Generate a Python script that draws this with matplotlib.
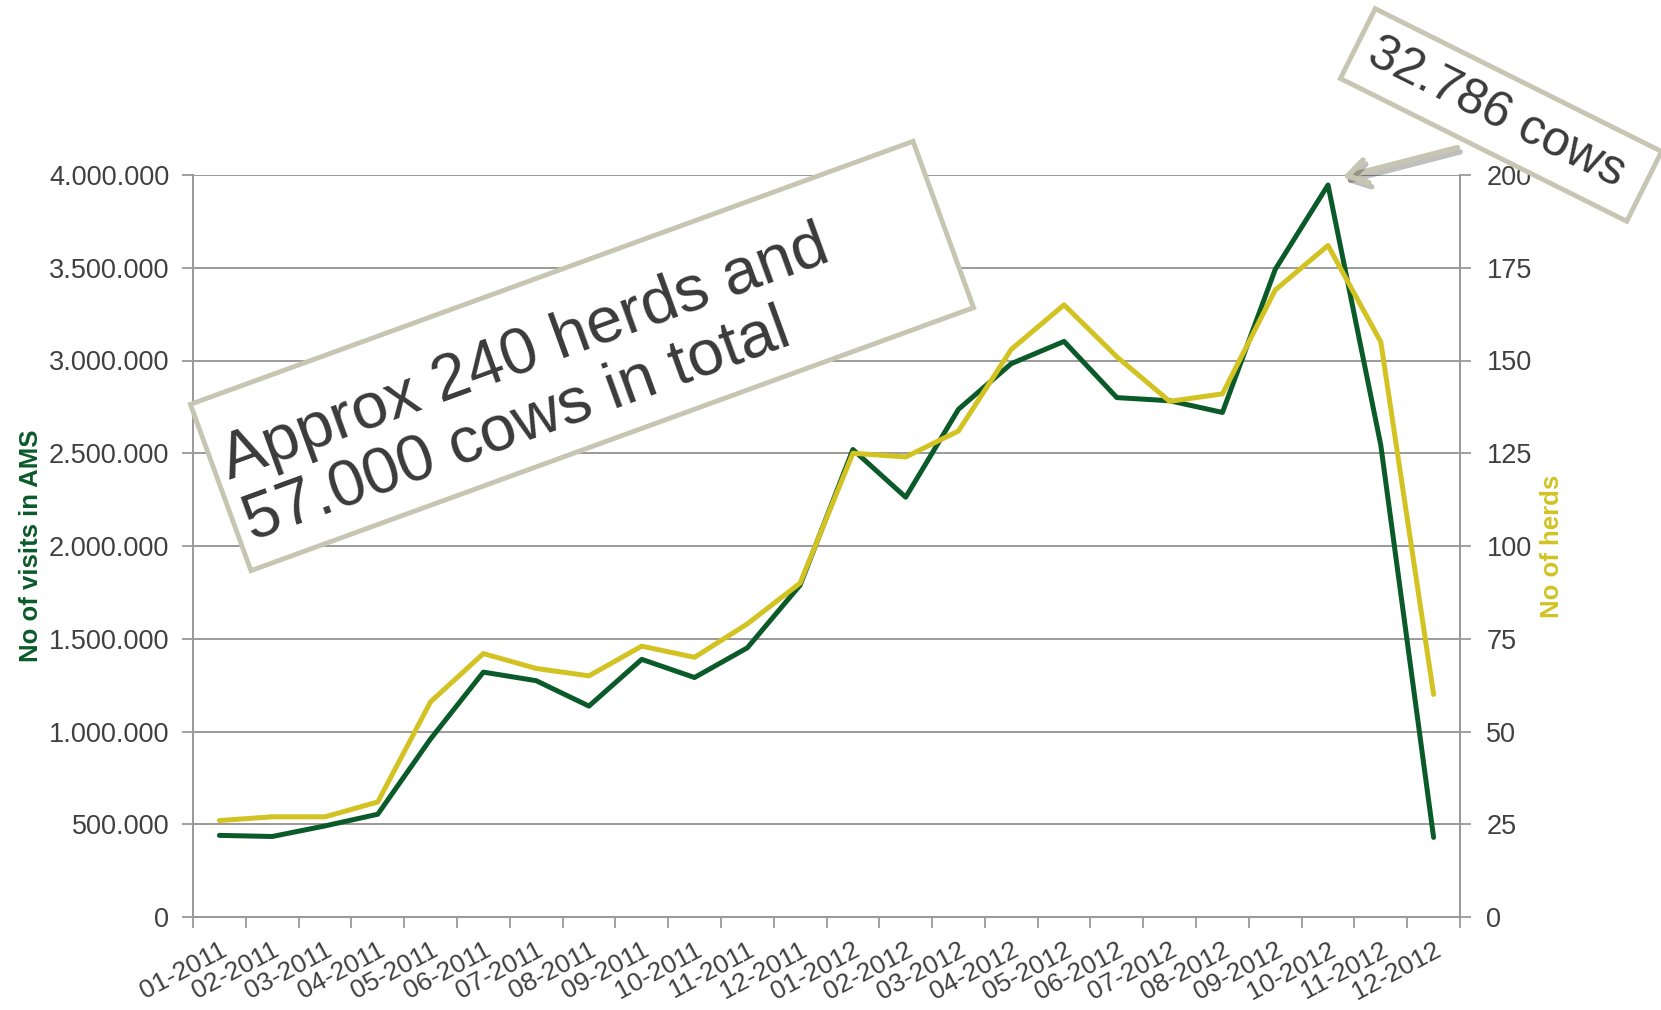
import matplotlib.pyplot as plt
import matplotlib.patheffects as pe
from matplotlib.patches import Rectangle
from matplotlib.transforms import Affine2D
from matplotlib.ticker import FixedLocator, FuncFormatter

plt.rcParams['font.family'] = ['Liberation Sans', 'DejaVu Sans']

MONTHS = ['01-2011', '02-2011', '03-2011', '04-2011', '05-2011', '06-2011',
          '07-2011', '08-2011', '09-2011', '10-2011', '11-2011', '12-2011',
          '01-2012', '02-2012', '03-2012', '04-2012', '05-2012', '06-2012',
          '07-2012', '08-2012', '09-2012', '10-2012', '11-2012', '12-2012']

# no of visits in AMS (left axis)
VISITS = [440000, 434000, 491000, 554000, 960000, 1320000,
          1274000, 1137000, 1389000, 1291000, 1451000, 1789000,
          2520000, 2263000, 2737000, 2983000, 3103000, 2800000,
          2783000, 2720000, 3491000, 3946000, 2543000, 429000]

# no of herds (right axis)
HERDS = [26, 27, 27, 31, 58, 71, 67, 65, 73, 70, 79, 90,
         125, 124, 131, 153, 165, 151, 139, 141, 169, 181, 155, 60]

LEFT_TICKS = [0, 500000, 1000000, 1500000, 2000000, 2500000, 3000000, 3500000, 4000000]
RIGHT_TICKS = [0, 25, 50, 75, 100, 125, 150, 175, 200]

GREEN = '#0b5a2a'
YELLOW = '#d2c323'
BOXC = '#c6c6b2'
GRID = '#9a9a9a'
TXT = '#404040'

W, H, DPI = 1661, 1010, 100

fig = plt.figure(figsize=(W / DPI, H / DPI), dpi=DPI)
ax = fig.add_axes([193 / W, 1 - 917 / H, (1460 - 193) / W, (917 - 175) / H])
ax2 = ax.twinx()

x = list(range(len(MONTHS)))
ax.plot(x, VISITS, color=GREEN, lw=3.6, solid_capstyle='round', zorder=3)
ax2.plot(x, HERDS, color=YELLOW, lw=3.6, solid_capstyle='round', zorder=3)

ax.set_xlim(-0.5, len(MONTHS) - 0.5)
ax.set_ylim(0, 4000000)
ax2.set_ylim(0, 200)

ax.set_yticks(LEFT_TICKS)
ax.yaxis.set_major_formatter(FuncFormatter(lambda v, p: f"{int(v):,}".replace(',', '.')))
ax2.set_yticks(RIGHT_TICKS)

ax.set_xticks(x)
ax.set_xticklabels(MONTHS, rotation=28, ha='right', va='top', rotation_mode='anchor')
ax.xaxis.set_minor_locator(FixedLocator([i - 0.5 for i in range(len(MONTHS) + 1)]))
ax.tick_params(axis='x', which='major', length=0, pad=15, labelsize=19, labelcolor=TXT)
ax.tick_params(axis='x', which='minor', length=8, width=1.3, color=GRID)
ax.tick_params(axis='y', length=8, width=1.3, color=GRID, pad=9, labelsize=19.5, labelcolor=TXT)
ax2.tick_params(axis='y', length=8, width=1.3, color=GRID, pad=11, labelsize=19.5, labelcolor=TXT)

ax.grid(axis='y', color=GRID, lw=1.4)
ax.set_axisbelow(True)
for a in (ax, ax2):
    a.spines['top'].set_visible(False)
    for s in ('left', 'right', 'bottom'):
        a.spines[s].set_color(GRID)
        a.spines[s].set_linewidth(1.4)

ax.set_ylabel('No of visits in AMS', color=GREEN, fontsize=18.5, fontweight='bold')
ax.yaxis.set_label_coords(-0.118, 0.5)
ax2.set_ylabel('No of herds', color=YELLOW, fontsize=18.5, fontweight='bold')
ax2.yaxis.set_label_coords(1.063, 0.5)


def rotated_box(cx, cy, w, h, angle):
    # cx, cy in pixels from top-left of the image
    tr = Affine2D().rotate_deg(angle).translate(cx, H - cy).scale(1 / DPI) + fig.dpi_scale_trans
    rect = Rectangle((-w / 2, -h / 2), w, h, transform=tr, facecolor='white',
                     edgecolor=BOXC, lw=3.5, zorder=5)
    fig.add_artist(rect)


rotated_box(582, 356, 769, 177, 20)
fig.text(536 / W, 1 - 384 / H, 'Approx 240 herds and\n57.000 cows in total',
         rotation=20, rotation_mode='anchor', ha='center', va='center',
         multialignment='left', fontsize=47, color='#3a3a3a', linespacing=1.1, zorder=6)

rotated_box(1501, 115, 320, 78, -26.5)
fig.text(1497 / W, 1 - 113 / H, '32.786 cows', rotation=-26.5, rotation_mode='anchor',
         ha='center', va='center', fontsize=36, color='#3a3a3a', zorder=6)

fig.add_artist(plt.Annotation('', xy=(1340, H - 178), xycoords='figure pixels',
                              xytext=(1460, H - 147), textcoords='figure pixels',
                              arrowprops=dict(arrowstyle='->,head_length=0.45,head_width=0.28',
                                              color=BOXC, lw=4, mutation_scale=30,
                                              path_effects=[pe.SimpleLineShadow(offset=(2, -3), alpha=0.25),
                                                            pe.Normal()])))

fig.savefig('out.png', dpi=DPI)
